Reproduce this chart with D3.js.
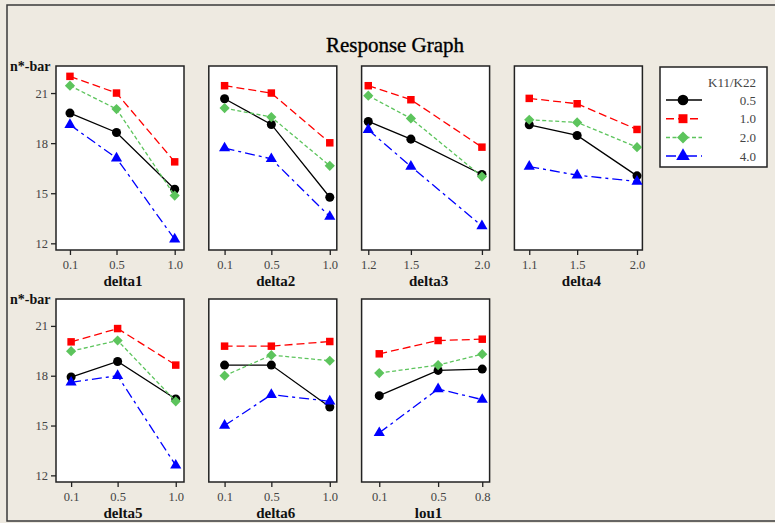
<!DOCTYPE html>
<html>
<head>
<meta charset="utf-8">
<script src="https://cdn.jsdelivr.net/npm/d3@7/dist/d3.min.js"></script>
<style>
  html, body { margin: 0; padding: 0; background: #EEEAE1; }
  svg { display: block; }
</style>
</head>
<body>
<svg id="chart" width="775" height="523"></svg>
<script>
// Series (legend entries) for K11/K22
const seriesNames = ["0.5", "1.0", "2.0", "4.0"];
const seriesColors = ["#000000", "#FF0000", "#5CC45C", "#0000FF"];
const seriesDash = [null, "8,4", "4,2.5", "10,4,3,4"];
const seriesShapes = ["circle", "square", "diamond", "triangle"];

// Factor names drawn under each panel
const factorNames = ["delta1", "delta2", "delta3", "delta4", "delta5", "delta6", "lou1"];

// Factor levels (x) for each panel
const delta1Levels = [0.1, 0.5, 1.0];
const delta2Levels = [0.1, 0.5, 1.0];
const delta3Levels = [1.2, 1.5, 2.0];
const delta4Levels = [1.1, 1.5, 2.0];
const delta5Levels = [0.1, 0.5, 1.0];
const delta6Levels = [0.1, 0.5, 1.0];
const lou1Levels = [0.1, 0.5, 0.8];

// Mean n*-bar per series (rows: 0.5, 1.0, 2.0, 4.0)
const delta1Means = [[19.80, 18.64, 15.24], [22.00, 21.00, 16.88], [21.44, 20.04, 14.86], [19.10, 17.10, 12.24]];
const delta2Means = [[20.66, 19.12, 14.76], [21.44, 21.00, 18.02], [20.10, 19.56, 16.64], [17.70, 17.06, 13.60]];
const delta3Means = [[19.30, 18.24, 16.12], [21.44, 20.60, 17.76], [20.84, 19.48, 16.00], [18.80, 16.60, 13.04]];
const delta4Means = [[19.10, 18.46, 16.04], [20.68, 20.36, 18.82], [19.40, 19.24, 17.76], [16.60, 16.08, 15.70]];
const delta5Means = [[17.92, 18.86, 16.60], [20.04, 20.84, 18.64], [19.48, 20.12, 16.46], [17.60, 18.00, 12.60]];
const delta6Means = [[18.64, 18.64, 16.12], [19.78, 19.78, 20.06], [18.00, 19.24, 18.90], [15.00, 16.86, 16.46]];
const lou1Means = [[16.80, 18.32, 18.40], [19.32, 20.12, 20.20], [18.16, 18.64, 19.30], [14.56, 17.20, 16.56]];

// x-axis extents of each panel
const xExtents = [[-0.02, 1.08], [-0.035, 1.06], [1.153, 2.054], [0.976, 2.045], [-0.03, 1.071], [-0.035, 1.06], [-0.02, 0.85]];

// y axis
const yTicks = [12, 15, 18, 21];
const yExtent = [11.6, 22.62];

const levelsList = [delta1Levels, delta2Levels, delta3Levels, delta4Levels, delta5Levels, delta6Levels, lou1Levels];
const meansList = [delta1Means, delta2Means, delta3Means, delta4Means, delta5Means, delta6Means, lou1Means];

const svg = d3.select("#chart");
const serif = "'Liberation Serif', 'DejaVu Serif', serif";

// Square-proportioned diamond (a square turned by 45 degrees)
const symbolSquareDiamond = {
  draw(context, size) {
    const r = Math.sqrt(size / 2);
    context.moveTo(0, -r);
    context.lineTo(r, 0);
    context.lineTo(0, r);
    context.lineTo(-r, 0);
    context.closePath();
  }
};
const symbolTypes = {
  circle: d3.symbolCircle,
  square: d3.symbolSquare,
  diamond: symbolSquareDiamond,
  triangle: d3.symbolTriangle
};
const markerSizes = { circle: 64, square: 56, diamond: 52, triangle: 54 };
const legendSizes = { circle: 90, square: 80, diamond: 72, triangle: 80 };

// Outer frame
svg.append("rect")
  .attr("x", 7).attr("y", 5).attr("width", 800).attr("height", 516)
  .attr("fill", "#EEEAE1").attr("stroke", "#3a3a3a").attr("stroke-width", 1.5);

// Title
svg.append("text")
  .attr("x", 395).attr("y", 52)
  .attr("text-anchor", "middle")
  .attr("font-family", serif)
  .attr("font-size", 21)
  .attr("fill", "#000")
  .attr("stroke", "#000").attr("stroke-width", 0.35)
  .text("Response Graph");

// Panel geometry
const panelW = 128;
const colLeft = i => 56 + i * 152.8;
const rowTop = [66, 299];
const rowH = [184, 183];

factorNames.forEach((name, p) => {
  const row = p < 4 ? 0 : 1;
  const col = p < 4 ? p : p - 4;
  const x0 = colLeft(col), y0 = rowTop[row], h = rowH[row];

  const x = d3.scaleLinear().domain(xExtents[p]).range([x0, x0 + panelW]);
  const y = d3.scaleLinear().domain(yExtent).range([y0 + h, y0]);

  const g = svg.append("g");

  g.append("rect")
    .attr("x", x0).attr("y", y0).attr("width", panelW).attr("height", h)
    .attr("fill", "#ffffff").attr("stroke", "#222").attr("stroke-width", 1.5);

  // x axis
  const xAxis = g.append("g")
    .attr("transform", `translate(0,${y0 + h})`)
    .call(d3.axisBottom(x).tickValues(levelsList[p]).tickFormat(d3.format(".1f")).tickSize(5).tickPadding(5));
  xAxis.select(".domain").remove();
  xAxis.selectAll("line").attr("stroke", "#222").attr("stroke-width", 1.3);
  xAxis.selectAll("text").attr("font-family", serif).attr("font-size", 12.5).attr("fill", "#444");

  g.append("text")
    .attr("x", x0 + panelW / 2 + 3).attr("y", y0 + h + 36)
    .attr("text-anchor", "middle")
    .attr("font-family", serif).attr("font-weight", "bold").attr("font-size", 15)
    .attr("fill", "#111")
    .text(name);

  // y axis on first column
  if (col === 0) {
    const yAxis = g.append("g")
      .attr("transform", `translate(${x0},0)`)
      .call(d3.axisLeft(y).tickValues(yTicks).tickSize(5).tickPadding(3));
    yAxis.select(".domain").remove();
    yAxis.selectAll("line").attr("stroke", "#222").attr("stroke-width", 1.3);
    yAxis.selectAll("text").attr("font-family", serif).attr("font-size", 12.5).attr("fill", "#444");

    g.append("text")
      .attr("x", 10).attr("y", y0 + 5)
      .attr("font-family", serif).attr("font-weight", "bold").attr("font-size", 14)
      .attr("fill", "#111")
      .text("n*-bar");
  }

  // series lines and markers
  const line = d3.line().x(d => x(d[0])).y(d => y(d[1]));
  meansList[p].forEach((vals, s) => {
    const pts = levelsList[p].map((lv, i) => [lv, vals[i]]);
    g.append("path")
      .attr("d", line(pts))
      .attr("fill", "none")
      .attr("stroke", seriesColors[s])
      .attr("stroke-width", 1.3)
      .attr("stroke-dasharray", seriesDash[s]);
    const shape = seriesShapes[s];
    g.selectAll(null).data(pts).enter().append("path")
      .attr("d", d3.symbol(symbolTypes[shape], markerSizes[shape])())
      .attr("transform", d => `translate(${x(d[0])},${y(d[1])})`)
      .attr("fill", seriesColors[s]);
  });
});

// Legend
const lg = svg.append("g");
lg.append("rect")
  .attr("x", 660).attr("y", 67).attr("width", 107).attr("height", 100)
  .attr("fill", "#ffffff").attr("stroke", "#222").attr("stroke-width", 1.5);
lg.append("text")
  .attr("x", 756).attr("y", 87)
  .attr("text-anchor", "end")
  .attr("font-family", serif).attr("font-size", 13).attr("fill", "#444")
  .text("K11/K22");
seriesNames.forEach((nm, s) => {
  const cy = 100 + s * 18.7;
  const shape = seriesShapes[s];
  lg.append("line")
    .attr("x1", 666).attr("x2", 702).attr("y1", cy).attr("y2", cy)
    .attr("stroke", seriesColors[s]).attr("stroke-width", 1.5)
    .attr("stroke-dasharray", seriesDash[s]);
  lg.append("path")
    .attr("d", d3.symbol(symbolTypes[shape], legendSizes[shape])())
    .attr("transform", `translate(683,${cy})`)
    .attr("fill", seriesColors[s]);
  lg.append("text")
    .attr("x", 756).attr("y", cy + 4.5)
    .attr("text-anchor", "end")
    .attr("font-family", serif).attr("font-size", 13).attr("fill", "#444")
    .text(nm);
});
</script>
</body>
</html>
